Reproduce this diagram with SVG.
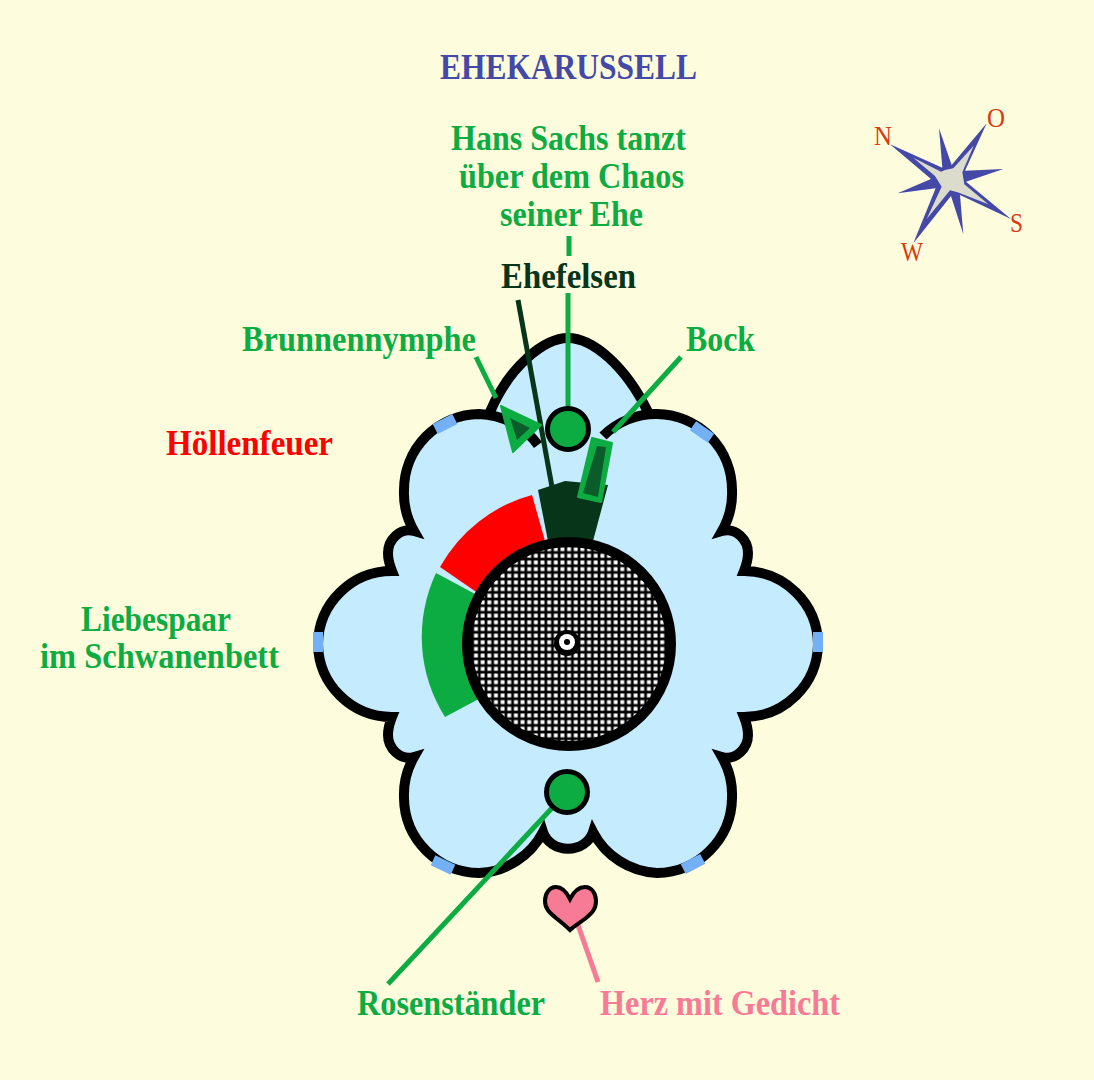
<svg xmlns="http://www.w3.org/2000/svg" width="1094" height="1080" viewBox="0 0 1094 1080">
<style>
text{font-family:"Liberation Serif","Times New Roman",serif;font-weight:bold;font-size:36px}
.g{fill:#0dac42}.b{fill:#4449a8}.d{fill:#06351a}.r{fill:#ff0000}.p{fill:#f87b96}.o{fill:#d93a12;font-weight:normal;font-size:27px}
.ln{fill:none;stroke-width:5}
.seg{fill:#74b0f5}
.hub{stroke:#000;stroke-width:5}
.fig{fill:#0dac42;stroke:#0dac42;stroke-width:2;stroke-linejoin:round}
</style>
<defs>
<pattern id="hatch" width="6.65" height="6.65" patternUnits="userSpaceOnUse" x="0.5" y="0.5">
<rect width="6.65" height="6.65" fill="#000"/><rect x="1.4" y="1.4" width="3.9" height="3.9" fill="#fff"/>
</pattern>
</defs>
<rect width="1094" height="1080" fill="#fdfcdc"/>
<g id="carousel-body">
<path id="body-fill" fill="#c5ebff" d="M490,412 C510,365 545,338 568,338 C592,338 625,365 648,412 L657,414 A76,76 0 0 1 732,490 A76,76 0 0 1 722,531 C736,527 748,540 748,553 C748,560 746,566 744,571 A74,74 0 0 1 818,644 A74,74 0 0 1 744,717 C746,722 748,728 748,735 C748,748 736,761 722,757 A76,76 0 0 1 732,798 A76,76 0 0 1 657,873 A76,76 0 0 1 593,832 A26,23 0 0 1 543,832 A76,76 0 0 1 479,873 A76,76 0 0 1 404,798 A76,76 0 0 1 414,757 C400,761 388,748 388,735 C388,728 390,722 392,717 A74,74 0 0 1 318,644 A74,74 0 0 1 392,571 C390,566 388,560 388,553 C388,540 400,527 414,531 A76,76 0 0 1 404,490 A76,76 0 0 1 479,414 Z"/>
<path id="body-outline" fill="none" stroke="#000" stroke-width="10" stroke-miterlimit="12" d="M490,412 C510,365 545,338 568,338 C592,338 625,365 648,412 M603,436 A76,76 0 0 1 657,414 A76,76 0 0 1 732,490 A76,76 0 0 1 722,531 C736,527 748,540 748,553 C748,560 746,566 744,571 A74,74 0 0 1 818,644 A74,74 0 0 1 744,717 C746,722 748,728 748,735 C748,748 736,761 722,757 A76,76 0 0 1 732,798 A76,76 0 0 1 657,873 A76,76 0 0 1 593,832 A26,23 0 0 1 543,832 A76,76 0 0 1 479,873 A76,76 0 0 1 404,798 A76,76 0 0 1 414,757 C400,761 388,748 388,735 C388,728 390,722 392,717 A74,74 0 0 1 318,644 A74,74 0 0 1 392,571 C390,566 388,560 388,553 C388,540 400,527 414,531 A76,76 0 0 1 404,490 A76,76 0 0 1 479,414 A76,76 0 0 1 538,445"/>
<rect class="seg" x="313" y="632" width="10" height="20"/>
<rect class="seg" x="813" y="632" width="10" height="20"/>
<rect class="seg" x="-11" y="-5.5" width="22" height="11" transform="translate(445,424) rotate(-27)"/>
<rect class="seg" x="-11" y="-5.5" width="22" height="11" transform="translate(702,432) rotate(35)"/>
<rect class="seg" x="-11" y="-5.5" width="22" height="11" transform="translate(443,865) rotate(25)"/>
<rect class="seg" x="-11" y="-5.5" width="22" height="11" transform="translate(693,864) rotate(-28)"/>
</g>
<g id="hoellenfeuer-sector">
<path fill="#ff0000" d="M440,567 A150,150 0 0 1 532,495 L549,555 L485,598 Z"/>
</g>
<g id="liebespaar-sector">
<path fill="#0dac42" d="M436,573 A150,150 0 0 0 445,717 L490,693 L490,602 Z"/>
</g>
<g id="ehefelsen-block">
<path fill="#06351a" d="M538,490 L565,481 L608,485 L593,541 L548,541 Z"/>
</g>
<g id="turntable">
<circle cx="569" cy="644" r="102" fill="url(#hatch)" stroke="#000" stroke-width="10"/>
<circle cx="567" cy="643" r="13" fill="#000"/>
<circle cx="567" cy="642" r="8" fill="#fff"/>
<circle cx="567" cy="642" r="3" fill="#000"/>
</g>
<g id="connectors" class="ln">
<path class="ln" stroke="#0dac42" d="M569,236V256M568,293V408M476,357L496,398M681,357L613,432M552,808L388,984"/>
<path class="ln" stroke="#06351a" d="M518,300L552,487"/>
<path class="ln" stroke="#f87b96" d="M578,925L598,982"/>
</g>
<g id="hans-sachs"><circle class="g hub" cx="568" cy="429" r="20.5"/></g>
<g id="rosenstaender"><circle class="g hub" cx="567" cy="792" r="20.5"/></g>
<g id="brunnennymphe">
<path class="fig" d="M501,406 L541,425 L513,452 Z"/>
<path fill="#0a5c2a" d="M510,418 L530,428 L517,440 Z"/>
</g>
<g id="bock">
<path class="fig" d="M592,438 L612,443 L601,502 L578,497 Z"/>
<path fill="#0a5c2a" d="M597,446 L606,447 L598,497 L583,493 Z"/>
</g>
<g id="herz">
<path fill="#f87b96" stroke="#000" stroke-width="4" d="M570,899 C566,891 561,887 556,887 C549,887 545,894 545,901 C545,909 550,913 556,918 C561,922 566,926 570,930 C574,926 581,922 586,918 C592,913 596,909 596,901 C596,894 592,887 585,887 C580,887 574,891 570,899 Z"/>
</g>
<g id="kompass">
<path transform="translate(885,115) scale(.33333)" fill="#4449a8" d="M15,88 L172,158 L162,40 L200,150 L305,25 L240,167 L355,162 L243,200 L378,312 L225,240 L235,358 L198,243 L85,385 L152,220 L38,235 L138,192 Z"/>
<path transform="translate(885,115) scale(.33333)" fill="#dcdccc" d="M85,128 L168,170 L180,165 L205,160 L266,92 L232,172 L238,208 L310,268 L218,232 L195,226 L125,312 L170,215 L150,183 Z"/>
<text class="o" x="874" y="145" textLength="18" lengthAdjust="spacingAndGlyphs">N</text>
<text class="o" x="987" y="127" textLength="18" lengthAdjust="spacingAndGlyphs">O</text>
<text class="o" x="1010" y="232" textLength="13" lengthAdjust="spacingAndGlyphs">S</text>
<text class="o" x="901" y="261" textLength="22" lengthAdjust="spacingAndGlyphs">W</text>
</g>
<g id="labels">
<text class="b" x="440" y="79" textLength="257" lengthAdjust="spacingAndGlyphs">EHEKARUSSELL</text>
<text class="g" x="451" y="150" textLength="235" lengthAdjust="spacingAndGlyphs">Hans Sachs tanzt</text>
<text class="g" x="459" y="188" textLength="225" lengthAdjust="spacingAndGlyphs">über dem Chaos</text>
<text class="g" x="500" y="226" textLength="143" lengthAdjust="spacingAndGlyphs">seiner Ehe</text>
<text class="d" x="501" y="288" textLength="135" lengthAdjust="spacingAndGlyphs">Ehefelsen</text>
<text class="g" x="242" y="351" textLength="234" lengthAdjust="spacingAndGlyphs">Brunnennymphe</text>
<text class="g" x="686" y="351" textLength="69" lengthAdjust="spacingAndGlyphs">Bock</text>
<text class="r" x="166" y="455" textLength="167" lengthAdjust="spacingAndGlyphs">Höllenfeuer</text>
<text class="g" x="81" y="631" textLength="150" lengthAdjust="spacingAndGlyphs">Liebespaar</text>
<text class="g" x="40" y="668" textLength="239" lengthAdjust="spacingAndGlyphs">im Schwanenbett</text>
<text class="g" x="357" y="1015" textLength="188" lengthAdjust="spacingAndGlyphs">Rosenständer</text>
<text class="p" x="600" y="1015" textLength="240" lengthAdjust="spacingAndGlyphs">Herz mit Gedicht</text>
</g>
</svg>
